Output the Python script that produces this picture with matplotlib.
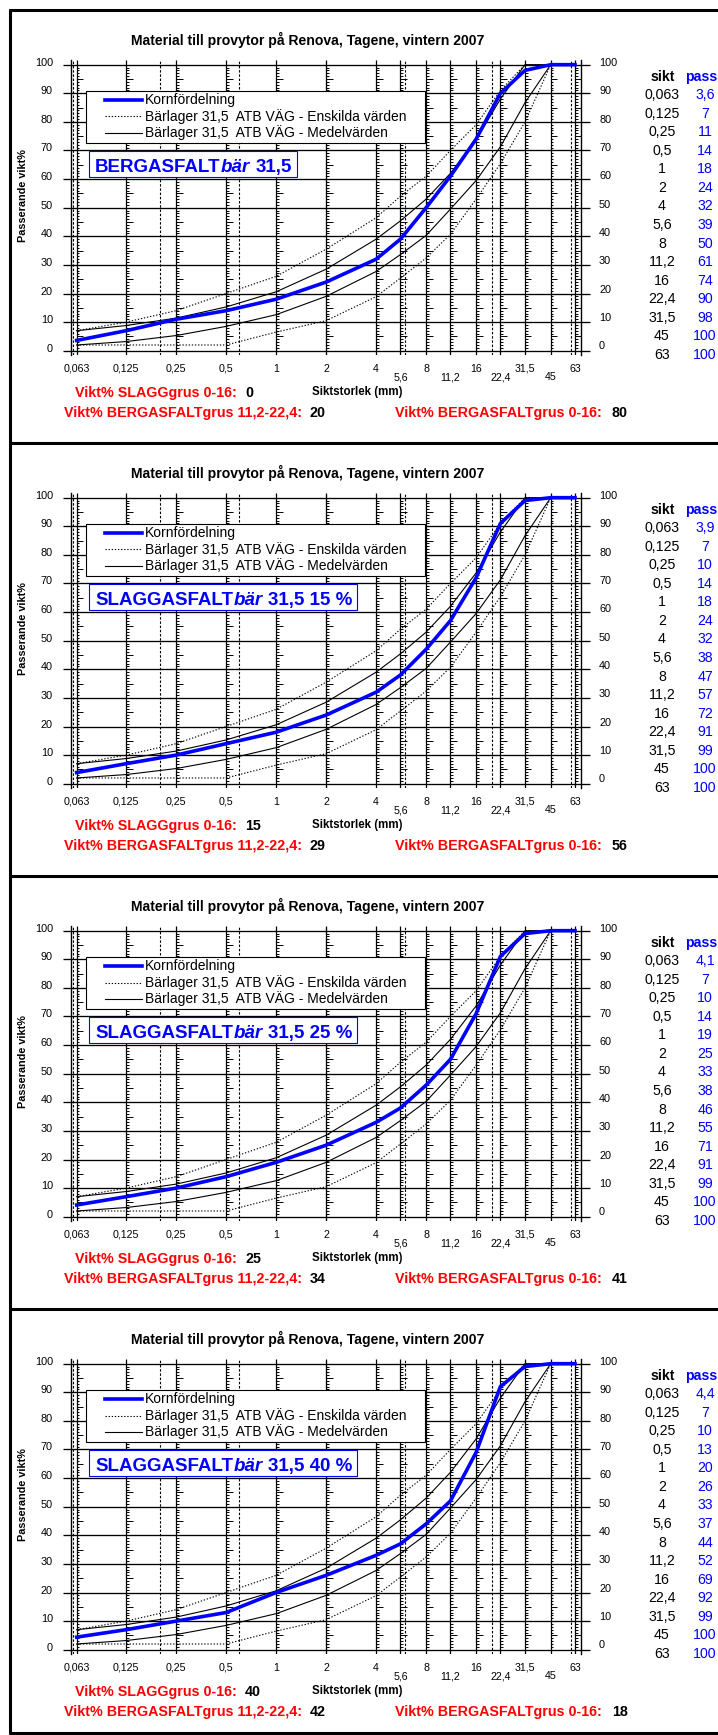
import matplotlib
matplotlib.use("Agg")
import matplotlib.pyplot as plt
from matplotlib.collections import LineCollection
from matplotlib.patches import Rectangle
from matplotlib.lines import Line2D

plt.rcParams['font.family'] = ['Liberation Sans', 'DejaVu Sans']

W, H = 718, 1735
PANEL_DY = 433

# siktar och etiketter
sikt = [0.063, 0.125, 0.25, 0.5, 1, 2, 4, 5.6, 8, 11.2, 16, 22.4, 31.5, 45, 63]
sikt_txt = ["0,063", "0,125", "0,25", "0,5", "1", "2", "4", "5,6", "8", "11,2",
            "16", "22,4", "31,5", "45", "63"]
sikt_low = [False, False, False, False, False, False, False, True, False, True,
            False, True, False, True, False]
# geotekniska fraktionsgränser (streckade)
frakt = [0.06, 0.2, 0.6, 2, 6, 20, 60]
yticks = list(range(0, 101, 10))

# ATB VÄG bärlager 31,5
enskild_hi = [7, 10, 14, 20, 26, 35.5, 46.5, 54, 61, 70, 79, 91, 100, 100, 100]
enskild_lo = [2, 2, 2, 2, 6.5, 10.5, 18.9, 25.4, 32.4, 40.7, 53, 65.4, 80, 100, 100]
medel_hi = [7, 8.8, 11.4, 15.3, 20.6, 28.5, 39, 45.4, 53, 62, 73.7, 88, 100, 100, 100]
medel_lo = [2, 3.2, 5.3, 8.5, 12.6, 19, 27.7, 33.6, 40.3, 49.5, 59.5, 71.3, 86.7, 100, 100]

# kornfördelning per provyta
pass_1 = [3.6, 7, 11, 14, 18, 24, 32, 39, 50, 61, 74, 90, 98, 100, 100]
pass_2 = [3.9, 7, 10, 14, 18, 24, 32, 38, 47, 57, 72, 91, 99, 100, 100]
pass_3 = [4.1, 7, 10, 14, 19, 25, 33, 38, 46, 55, 71, 91, 99, 100, 100]
pass_4 = [4.4, 7, 10, 13, 20, 26, 33, 37, 44, 52, 69, 92, 99, 100, 100]
passerande = [pass_1, pass_2, pass_3, pass_4]

namn_pre = ["BERGASFALT", "SLAGGASFALT", "SLAGGASFALT", "SLAGGASFALT"]
namn_suf = ["31,5", "31,5 15 %", "31,5 25 %", "31,5 40 %"]
slagg_0_16 = [0, 15, 25, 40]
berg_11_22 = [20, 29, 34, 42]
berg_0_16 = [80, 56, 41, 18]

titel = "Material till provytor på Renova, Tagene, vintern 2007"

fig = plt.figure(figsize=(W / 100, H / 100), dpi=100)
r = fig.canvas.get_renderer()


def fx(x):
    return x / W


def fy(y):
    return 1 - y / H


def xpx(p):
    # 50 px per fördubbling, 0,063 vid x=76.7
    return 0.063 * 2 ** ((p - 76.7) / 50)


def flin(x0, y0, x1, y1, **kw):
    fig.add_artist(Line2D([fx(x0), fx(x1)], [fy(y0), fy(y1)], **kw))


for k in range(4):
    oy = PANEL_DY * k
    ax = fig.add_axes([fx(71), fy(355 + oy), 510 / W, 295 / H])
    ax.set_xscale('log', base=2)
    ax.set_xlim(xpx(71), xpx(581))
    ax.set_ylim(-1.5, 101.64)
    ax.set_xticks([])
    ax.set_yticks([])
    ax.minorticks_off()
    for s in ['top', 'bottom']:
        ax.spines[s].set_visible(False)
    for s in ['left', 'right']:
        ax.spines[s].set_linewidth(1.0)
    ax.patch.set_visible(False)

    ax.hlines(yticks, xpx(63), xpx(590), colors='black', lw=0.95,
              clip_on=False, zorder=1)
    ax.vlines(sikt, -1.5, 101.64, colors='black', lw=0.9, zorder=1)
    ax.vlines(frakt, -1.5, 101.64, colors='black', lw=0.8,
              linestyles=(0, (2.2, 1.6)), zorder=1)
    segs = []
    for s in sikt:
        for v in range(1, 100):
            if v % 10 == 0:
                continue
            L = 6.5 if v % 5 == 0 else 2.7
            segs.append([(s, v), (s * 2 ** (L / 50), v)])
    ax.add_collection(LineCollection(segs, colors='black', linewidths=0.7, zorder=1))

    ax.plot(sikt, enskild_hi, color='black', lw=0.8, ls=(0, (1.2, 1.6)), zorder=3)
    ax.plot(sikt, enskild_lo, color='black', lw=0.8, ls=(0, (1.2, 1.6)), zorder=3)
    ax.plot(sikt, medel_hi, color='black', lw=0.8, zorder=3)
    ax.plot(sikt, medel_lo, color='black', lw=0.8, zorder=3)
    ax.plot(sikt, passerande[k], color='#0000ff', lw=2.6, zorder=4,
            solid_joinstyle='miter', clip_on=False)

    # y-etiketter på båda sidor
    ytr = ax.get_yaxis_transform()
    for v in yticks:
        ax.text(-0.0353, v + 2 / 2.86, str(v), transform=ytr, ha='right',
                va='center', fontsize=7.8)
        ax.text(1.0353, v + (1.7 + 0.028 * (100 - v)) / 2.86, str(v),
                transform=ytr, ha='left', va='center', fontsize=7.8)

    tr = ax.get_xaxis_transform()
    for s, t, low in zip(sikt, sikt_txt, sikt_low):
        ypx = 377 if low else 368.5
        ax.text(s, (355 - ypx) / 295, t, transform=tr, ha='center', va='center',
                fontsize=7.7)

    # texter
    fig.text(fx(308), fy(40 + oy), titel, ha='center', va='center',
             fontsize=10.1, fontweight='bold')
    fig.text(fx(23), fy(196 + oy), 'Passerande vikt%', rotation=90, ha='center',
             va='center', fontsize=7.8, fontweight='bold')
    fig.text(fx(357), fy(392 + oy), 'Siktstorlek (mm)', ha='center', va='center',
             fontsize=8.3, fontweight='bold')

    # legend
    fig.add_artist(Rectangle((fx(86), fy(143 + oy)), 339 / W, 52 / H,
                             facecolor='white', edgecolor='black', lw=0.8,
                             transform=fig.transFigure, zorder=5))
    leg = [('Kornfördelning', dict(color='#0000ff', lw=2.6)),
           ('Bärlager 31,5  ATB VÄG - Enskilda värden',
            dict(color='black', lw=0.8, ls=(0, (1.2, 1.6)))),
           ('Bärlager 31,5  ATB VÄG - Medelvärden', dict(color='black', lw=0.8))]
    for i, (lab, st) in enumerate(leg):
        yy = 100 + 16.5 * i + oy
        flin(105, yy, 142, yy, zorder=6, **st)
        fig.text(fx(145), fy(yy), lab, ha='left', va='center', fontsize=10, zorder=6)

    # namnruta
    fs = 13.5
    base = 172 + oy
    x = 95.0
    t1 = fig.text(fx(x), fy(base), namn_pre[k], fontsize=fs, fontweight='bold',
                  color='#0000ff', va='baseline', zorder=8)
    x += t1.get_window_extent(renderer=r).width + 0.5
    t2 = fig.text(fx(x), fy(base), 'bär', fontsize=fs, fontweight='bold',
                  fontstyle='italic', color='#0000ff', va='baseline', zorder=8)
    x += t2.get_window_extent(renderer=r).width
    wa = fig.text(0, 0, 'xx', fontsize=fs, fontweight='bold')
    wb = fig.text(0, 0, 'x x', fontsize=fs, fontweight='bold')
    sp = wb.get_window_extent(renderer=r).width - wa.get_window_extent(renderer=r).width
    wa.remove()
    wb.remove()
    x += sp
    t3 = fig.text(fx(x), fy(base), namn_suf[k], fontsize=fs, fontweight='bold',
                  color='#0000ff', va='baseline', zorder=8)
    x += t3.get_window_extent(renderer=r).width
    fig.add_artist(Rectangle((fx(89), fy(177 + oy)), (x + 5 - 89) / W, 26 / H,
                             facecolor='white', edgecolor='#0000ff', lw=0.8,
                             transform=fig.transFigure, zorder=7))

    # viktprocent
    red = dict(color='#ff0000', fontsize=10.25, fontweight='bold', va='center')
    blk = dict(color='black', fontsize=10.25, fontweight='bold', va='center')
    fig.text(fx(237), fy(393 + oy), 'Vikt% SLAGGgrus 0-16:', ha='right', **red)
    fig.text(fx(245), fy(393 + oy), str(slagg_0_16[k]), ha='left', **blk)
    fig.text(fx(302), fy(413 + oy), 'Vikt% BERGASFALTgrus 11,2-22,4:', ha='right', **red)
    fig.text(fx(310), fy(413 + oy), str(berg_11_22[k]), ha='left', **blk)
    fig.text(fx(602), fy(413 + oy), 'Vikt% BERGASFALTgrus 0-16:', ha='right', **red)
    fig.text(fx(612), fy(413 + oy), str(berg_0_16[k]), ha='left', **blk)

    # tabell
    fig.text(fx(663), fy(77 + oy), 'sikt', ha='center', va='center',
             fontsize=10.2, fontweight='bold')
    fig.text(fx(685), fy(77 + oy), 'pass', ha='left', va='center',
             fontsize=10.2, fontweight='bold', color='#0000ff')
    for i, (t, v) in enumerate(zip(sikt_txt, passerande[k])):
        yy = 95 + 18.57 * i + oy
        fig.text(fx(662), fy(yy), t, ha='center', va='center', fontsize=10.2)
        fig.text(fx(705), fy(yy), f"{v:g}".replace('.', ','), ha='center',
                 va='center', fontsize=10.2, color='#0000ff')

# ramar
for yb in [10, 443, 876, 1309, 1733]:
    flin(9, yb, 718, yb, color='black', lw=2.2, solid_capstyle='butt', zorder=9)
flin(10, 9, 10, 1734, color='black', lw=2.2, solid_capstyle='butt', zorder=9)

fig.savefig('out.png', dpi=100)
